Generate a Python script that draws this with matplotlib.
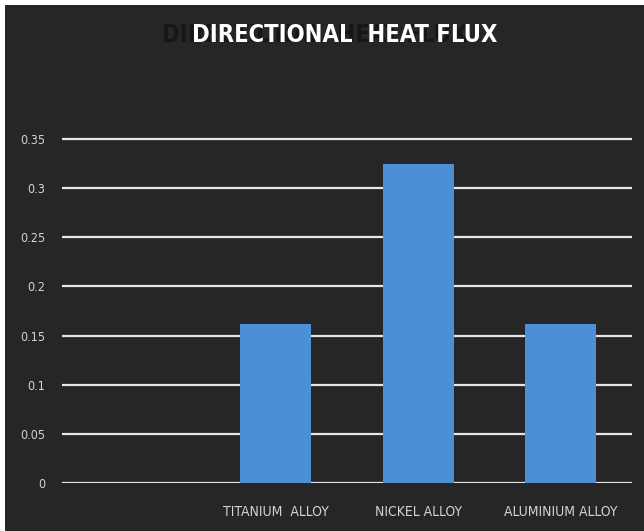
import matplotlib
matplotlib.use("Agg")
import matplotlib.pyplot as plt
from matplotlib.patches import Rectangle

categories = ["", "TITANIUM  ALLOY", "NICKEL ALLOY", "ALUMINIUM ALLOY"]
values = [0, 0.162, 0.325, 0.162]
yticks = [0, 0.05, 0.1, 0.15, 0.2, 0.25, 0.3, 0.35]
ytick_labels = ["0", "0.05", "0.1", "0.15", "0.2", "0.25", "0.3", "0.35"]

bg = "#262626"
txt = "#d0d4d8"
font = dict(family="DejaVu Sans", fontstretch="condensed")

fig = plt.figure(figsize=(6.44, 5.31), dpi=100, facecolor=bg)
# thin white strips on top and left edge
fig.patches.append(Rectangle((0, 0), 5 / 644, 1, transform=fig.transFigure,
                             facecolor="white", edgecolor="none"))
fig.patches.append(Rectangle((0, 1 - 5 / 531), 1, 5 / 531, transform=fig.transFigure,
                             facecolor="white", edgecolor="none"))

ax = fig.add_axes([62 / 644, 48 / 531, 570 / 644, 346 / 531])
ax.set_facecolor(bg)

x = list(range(len(categories)))
ax.bar(x[1:], values[1:], width=0.5, color="#4b90d6", zorder=3)

ax.set_xlim(-0.5, len(categories) - 0.5)
ax.set_ylim(0, 0.352)
ax.set_yticks(yticks)
ax.set_yticklabels(ytick_labels, fontsize=9, color=txt, **font)
ax.set_xticks(x)
ax.set_xticklabels(categories, fontsize=10, color=txt, **font)
ax.tick_params(length=0, pad=12)
ax.tick_params(axis="x", pad=16)
ax.grid(axis="y", color="#e6e6e6", linewidth=1.6, zorder=1)
ax.set_axisbelow(True)
for s in ax.spines.values():
    s.set_visible(False)

# faint ghost copy of the title, then the title itself
fig.text(345 / 644 - 30 / 644, 1 - 35 / 531, "DIRECTIONAL  HEAT FLUX", ha="center", va="center",
         fontweight="bold", fontsize=17, color="#161616", **font)
fig.text(345 / 644, 1 - 35 / 531, "DIRECTIONAL  HEAT FLUX", ha="center", va="center",
         fontweight="bold", fontsize=17, color="white", **font)

fig.savefig("out.png", dpi=100, facecolor=fig.get_facecolor())
